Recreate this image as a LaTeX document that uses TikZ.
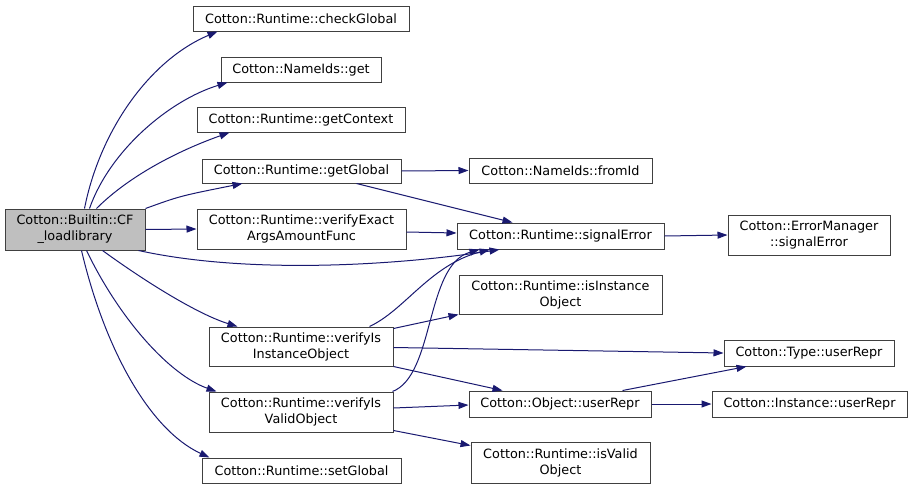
\documentclass[tikz,border=0pt]{standalone}
\usepackage{fontspec}
\setmainfont{DejaVu Sans}
\usetikzlibrary{calc,arrows.meta}
\definecolor{edgec}{HTML}{191970}
\definecolor{rootbg}{HTML}{BFBFBF}
\definecolor{framec}{HTML}{404040}
\tikzset{
  fn/.style={draw=framec,line width=0.75pt,fill=white,align=center,inner sep=0pt,font=\fontsize{9.6}{12}\selectfont},
  sz/.style 2 args={minimum width=#1*0.75pt,minimum height=#2*0.75pt},
  call/.style={-{Triangle[length=7.5pt,width=5.25pt]},line width=0.75pt,edgec}
}
\begin{document}
\begin{tikzpicture}[x=0.75pt,y=-0.75pt]
\useasboundingbox (0,0) rectangle (912,489);
% caller
\node[fn,fill=rootbg,sz={140}{41}] (root) at (75,229.5) {Cotton::Builtin::CF\\\_loadlibrary};
% first level
\node[fn,sz={216}{25}] (chk) at (301,18.5) {Cotton::Runtime::checkGlobal};
\node[fn,sz={160}{25}] (nget) at (301,69.5) {Cotton::NameIds::get};
\node[fn,sz={208}{25}] (ctx) at (301,119.5) {Cotton::Runtime::getContext};
\node[fn,sz={199}{24}] (gglob) at (301.5,171) {Cotton::Runtime::getGlobal};
\node[fn,sz={209}{40}] (vexact) at (301.5,229) {Cotton::Runtime::verifyExact\\ArgsAmountFunc};
\node[fn,sz={184}{39}] (vinst) at (301,346.5) {Cotton::Runtime::verifyIs\\InstanceObject};
\node[fn,sz={184}{40}] (vvalid) at (301,412) {Cotton::Runtime::verifyIs\\ValidObject};
\node[fn,sz={199}{25}] (sglob) at (301.5,470.5) {Cotton::Runtime::setGlobal};
% second level
\node[fn,sz={183}{25}] (fromid) at (560.5,170.5) {Cotton::NameIds::fromId};
\node[fn,sz={207}{26}] (sigerr) at (560.5,236) {Cotton::Runtime::signalError};
\node[fn,sz={203}{39}] (isinst) at (560.5,294.5) {Cotton::Runtime::isInstance\\Object};
\node[fn,sz={182}{26}] (ouser) at (560,404) {Cotton::Object::userRepr};
\node[fn,sz={179}{41}] (isvalid) at (560.5,462.5) {Cotton::Runtime::isValid\\Object};
% third level
\node[fn,sz={162}{40}] (emgr) at (809,235) {Cotton::ErrorManager\\::signalError};
\node[fn,sz={170}{26}] (tuser) at (809,353) {Cotton::Type::userRepr};
\node[fn,sz={195}{26}] (iuser) at (809.5,404) {Cotton::Instance::userRepr};
% calls from the caller
\draw[call] ($(root.north west)+(80,0)$) .. controls (100,130) and (150,60) .. ($(chk.south west)+(25,0)$);
\draw[call] ($(root.north west)+(85,0)$) .. controls (110,150) and (170,100) .. ($(nget.south west)+(7,0)$);
\draw[call] ($(root.north west)+(92,0)$) .. controls (130,175) and (180,150) .. ($(ctx.south west)+(33,0)$);
\draw[call] (root.north east) .. controls (180,196) .. ($(gglob.south west)+(41,0)$);
\draw[call] (root.east) -- (vexact.west);
\draw[call] ($(root.south east)+(-7,0)$) .. controls (250,275) and (400,265) .. ($(sigerr.south west)+(43,0)$);
\draw[call] ($(root.south west)+(98,0)$) .. controls (150,285) and (200,315) .. ($(vinst.north west)+(29,0)$);
\draw[call] ($(root.south west)+(82,0)$) .. controls (120,320) and (170,375) .. ($(vvalid.north west)+(8,0)$);
\draw[call] ($(root.south west)+(77,0)$) .. controls (105,350) and (150,430) .. ($(sglob.north west)+(8,0)$);
% calls from the first level
\draw[call] (gglob.east) -- (fromid.west);
\draw[call] ($(gglob.south west)+(155,0)$) -- ($(sigerr.north west)+(56,0)$);
\draw[call] ($(vexact.east)+(0,3)$) -- ($(sigerr.west)+(0,-3)$);
\draw[call] ($(vinst.north west)+(161,0)$) .. controls (405,310) and (430,265) .. ($(sigerr.south west)+(33,0)$);
\draw[call] ($(vvalid.north east)+(-1,0)$) .. controls (435,375) and (425,265) .. ($(sigerr.south west)+(23,0)$);
\draw[call] ($(vinst.north east)+(0,2)$) -- (isinst.south west);
\draw[call] ($(vinst.east)+(0,1)$) -- (tuser.west);
\draw[call] ($(vinst.south east)+(0,0)$) -- ($(ouser.north west)+(34,0)$);
\draw[call] ($(vvalid.east)+(0,-4)$) -- ($(ouser.west)+(0,1)$);
\draw[call] ($(vvalid.south east)+(0,-2)$) -- ($(isvalid.north west)+(0,4)$);
% calls from the second level
\draw[call] (sigerr.east) -- (emgr.west);
\draw[call] ($(ouser.north east)+(-29,0)$) -- ($(tuser.south west)+(23,0)$);
\draw[call] (ouser.east) -- (iuser.west);
\end{tikzpicture}
\end{document}
